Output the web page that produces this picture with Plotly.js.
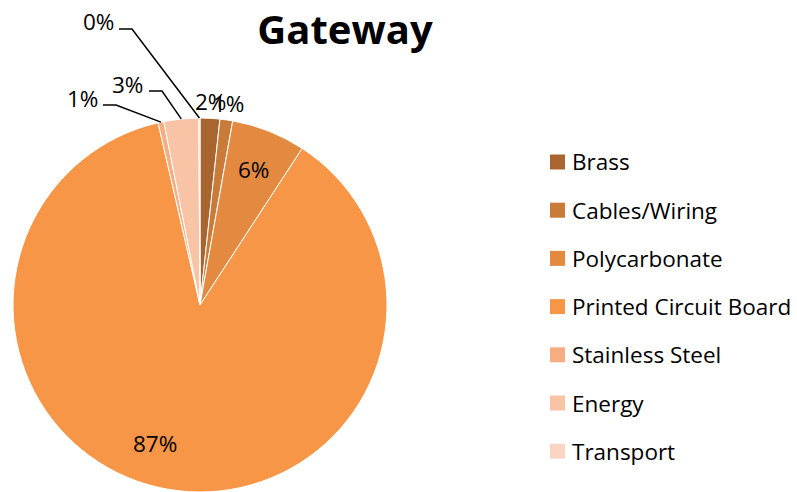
<!DOCTYPE html>
<html><head><meta charset="utf-8">
<script src="https://cdn.plot.ly/plotly-3.0.1.min.js"></script>
<style>html,body{margin:0;padding:0;background:#fff}#c{width:797px;height:492px}</style>
</head><body><div id="c"></div>
<script>
var labels = ["Brass","Cables/Wiring","Polycarbonate","Printed Circuit Board","Stainless Steel","Energy","Transport"];
var values = [1.7, 1.1, 6.4, 87.2, 0.5, 3.0, 0.1];
var colors = ["#A9652F","#C97B3A","#E48A40","#F79646","#F7AD82","#F9C3A6","#FAD5C4"];
var chartTitle = "Gateway";

var W = 797, H = 492;
var FONT = "'Open Sans', sans-serif";
var cx = 200, cy = 305, R = 187;
var dom = {x:[(cx-R)/W,(cx+R)/W], y:[(H-cy-R)/H,(H-cy+R)/H]};

// label placement per slice: 'in', 'out', {lx,ly} fixed label, leader:true draws elbow line
var placement = ["out","out","in",{lx:155,ly:443},{lx:82,ly:98,leader:true},{lx:128,ly:84,leader:true},{lx:98,ly:22,leader:true}];

var total = values.reduce(function(a,b){return a+b;},0);
var annotations = [], shapes = [];
function px2paper(x,y){return {x:x/W, y:(H-y)/H};}
var LF = {family:FONT,size:22.5,color:"#000"};
var cum = 0;
values.forEach(function(v,i){
  var a0 = cum/total*2*Math.PI, a1 = (cum+v)/total*2*Math.PI; cum += v;
  var mid = (a0+a1)/2;
  var txt = Math.round(v/total*100) + "%";
  var p = placement[i], pos, r;
  if (p === "in" || p === "out") {
    r = p === "in" ? 0.78*R : 1.09*R;
    pos = px2paper(cx + r*Math.sin(mid), cy - r*Math.cos(mid));
    annotations.push({x:pos.x,y:pos.y,xref:"paper",yref:"paper",text:txt,showarrow:false,
      font:LF,xanchor:"center",yanchor:"middle"});
  } else {
    annotations.push({x:p.lx/W,y:(H-p.ly)/H,xref:"paper",yref:"paper",text:txt,showarrow:false,
      font:LF,xanchor:"center",yanchor:"middle"});
    if (p.leader) {
      var ex = cx + R*Math.sin(mid), ey = cy - R*Math.cos(mid);
      var sx = p.lx + 21, kx = sx + 13, sy = p.ly + 7;
      var s = px2paper(sx,sy), k = px2paper(kx,sy), e = px2paper(ex,ey);
      shapes.push({type:"path",xref:"paper",yref:"paper",
        path:"M"+s.x+","+s.y+" L"+k.x+","+k.y+" L"+e.x+","+e.y,
        line:{color:"#000",width:1.5}});
    }
  }
});

// manual legend
var legX = 550, legY0 = 162, legStep = 48.2, box = 15;
labels.forEach(function(l,i){
  var y = legY0 + i*legStep;
  var a = px2paper(legX, y - box/2), b = px2paper(legX+box, y + box/2);
  shapes.push({type:"rect",xref:"paper",yref:"paper",x0:a.x,y0:a.y,x1:b.x,y1:b.y,
    fillcolor:colors[i],line:{width:0}});
  annotations.push({x:(legX+box+5)/W,y:(H-y)/H,xref:"paper",yref:"paper",text:l,showarrow:false,
    xanchor:"left",yanchor:"middle",font:LF});
});

var data = [{type:"pie",labels:labels,values:values,sort:false,direction:"clockwise",rotation:0,
  marker:{colors:colors,line:{color:"#fff",width:1}},textinfo:"none",hoverinfo:"label+percent",
  domain:dom,showlegend:false}];
var layout = {width:W,height:H,margin:{l:0,r:0,t:0,b:0},paper_bgcolor:"#fff",showlegend:false,
  title:{text:"<b>"+chartTitle+"</b>",x:345/W,xanchor:"center",y:1-30/H,yanchor:"middle",
    font:{family:FONT,size:40,color:"#000"}},
  annotations:annotations,shapes:shapes};
Plotly.newPlot("c",data,layout,{displayModeBar:false,staticPlot:true});
</script></body></html>
